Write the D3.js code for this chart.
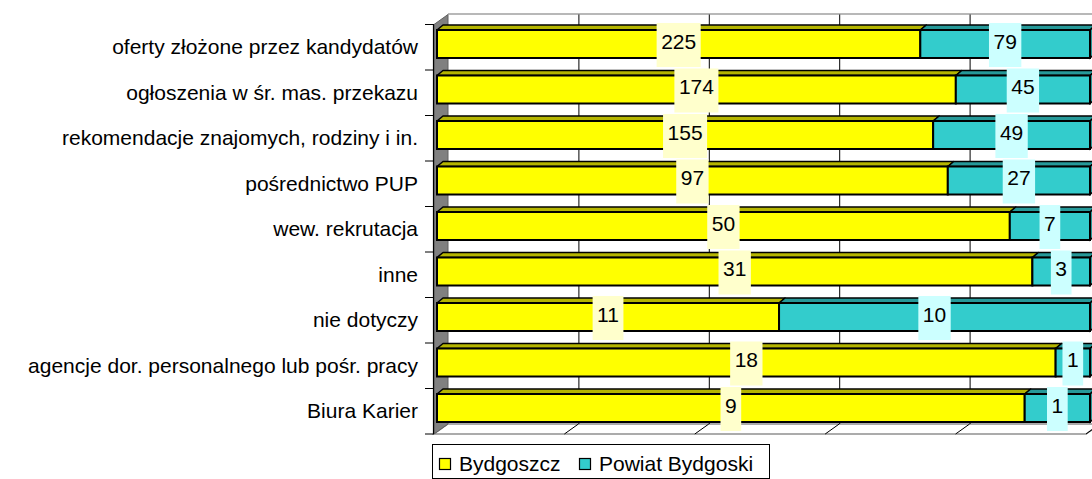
<!DOCTYPE html>
<html>
<head>
<meta charset="utf-8">
<script src="https://cdn.jsdelivr.net/npm/d3@7"></script>
<style>
html,body{margin:0;padding:0;background:#fff;}
svg{display:block;}
text{font-family:"Liberation Sans",Arial,sans-serif;}
</style>
</head>
<body>
<script>
// ---- data ----
const categories = [
  "oferty złożone przez kandydatów",
  "ogłoszenia w śr. mas. przekazu",
  "rekomendacje znajomych, rodziny i in.",
  "pośrednictwo PUP",
  "wew. rekrutacja",
  "inne",
  "nie dotyczy",
  "agencje dor. personalnego lub pośr. pracy",
  "Biura Karier"
];
const bydgoszcz = [225, 174, 155, 97, 50, 31, 11, 18, 9];
const powiat = [79, 45, 49, 27, 7, 3, 10, 1, 1];
const seriesNames = ["Bydgoszcz", "Powiat Bydgoski"];
const xTicks = [0, 0.2, 0.4, 0.6, 0.8, 1];

// ---- styles ----
const W = 1092, H = 479;
const FONT = 21;
const fills = ["#ffff00", "#33cccc"];
const topFills = ["#b5b500", "#269999"];
const labelFills = ["#ffffcc", "#ccffff"];

const svg = d3.select("body").append("svg").attr("width", W).attr("height", H);

const y = d3.scaleBand().domain(categories).range([24.5, 434]);
const xPlane = d3.scaleLinear().domain([0, 1]).range([434, 1086]);
const xBar = d3.scaleLinear().domain([0, 1]).range([437, 1090]);
const DX = 14, DY = -10;      // wall depth
const BDX = 6, BDY = -5;      // bar depth
const barOff = 5.5, barH = 28;

const yTop = y.range()[0], yBot = y.range()[1];

// back wall
svg.append("rect")
  .attr("x", xPlane(0) + DX).attr("y", yTop + DY)
  .attr("width", xPlane(1) - xPlane(0)).attr("height", yBot - yTop)
  .attr("fill", "#fff");
svg.append("line")
  .attr("x1", xPlane(0) + DX).attr("x2", xPlane(1) + DX)
  .attr("y1", yTop + DY - 0.5).attr("y2", yTop + DY - 0.5)
  .attr("stroke", "#a0a0a0").attr("stroke-width", 1.5);

// floor
svg.append("polygon")
  .attr("points", [
    [xPlane(0), yBot], [xPlane(1), yBot], [xPlane(1) + DX, yBot + DY], [xPlane(0) + DX, yBot + DY]
  ].map(p => p.join(",")).join(" "))
  .attr("fill", "#fff").attr("stroke", "#909090").attr("stroke-width", 1.5);

// gridlines (back wall + floor)
const inner = xTicks.filter(t => t > 0);
svg.selectAll("line.grid").data(inner).join("line").attr("class", "grid")
  .attr("x1", d => xPlane(d) + DX + 0.5).attr("x2", d => xPlane(d) + DX + 0.5)
  .attr("y1", yTop + DY).attr("y2", yBot + DY)
  .attr("stroke", "#000").attr("stroke-width", 1);
svg.selectAll("line.fgrid").data(inner).join("line").attr("class", "fgrid")
  .attr("x1", d => xPlane(d)).attr("y1", yBot)
  .attr("x2", d => xPlane(d) + DX).attr("y2", yBot + DY)
  .attr("stroke", "#000").attr("stroke-width", 1);

// left wall
svg.append("polygon")
  .attr("points", [
    [xPlane(0), yTop], [xPlane(0) + DX, yTop + DY], [xPlane(0) + DX, yBot + DY], [xPlane(0), yBot]
  ].map(p => p.join(",")).join(" "))
  .attr("fill", "#808080").attr("stroke", "#606060").attr("stroke-width", 1);

// category axis line and ticks
svg.append("line")
  .attr("x1", xPlane(0) - 0.5).attr("x2", xPlane(0) - 0.5)
  .attr("y1", yTop).attr("y2", yBot)
  .attr("stroke", "#000").attr("stroke-width", 1.2);
const tickYs = categories.map(c => y(c)).concat([yBot]);
svg.selectAll("line.tick").data(tickYs).join("line").attr("class", "tick")
  .attr("x1", xPlane(0) - 9).attr("x2", xPlane(0))
  .attr("y1", d => d).attr("y2", d => d)
  .attr("stroke", "#000").attr("stroke-width", 1);

// category labels
svg.selectAll("text.cat").data(categories).join("text").attr("class", "cat")
  .attr("x", 418).attr("y", d => y(d) + y.bandwidth() / 2 + 7)
  .attr("text-anchor", "end").attr("font-size", FONT).attr("fill", "#000")
  .text(d => d);

// stacked data
const rows = categories.map((c, i) => ({ cat: c, [seriesNames[0]]: bydgoszcz[i], [seriesNames[1]]: powiat[i] }));
const stack = d3.stack().keys(seriesNames).offset(d3.stackOffsetExpand);
const layers = stack(rows);
const raw = [bydgoszcz, powiat];

const pts = arr => arr.map(p => p.join(",")).join(" ");
const gBars = svg.append("g");
layers.forEach((layer, si) => {
  layer.forEach(d => {
    const x0 = xBar(d[0]), x1 = xBar(d[1]);
    const yt = y(d.data.cat) + barOff, yb = yt + barH;
    gBars.append("polygon")
      .attr("points", pts([[x0, yt], [x1, yt], [x1 + BDX, yt + BDY], [x0 + BDX, yt + BDY]]))
      .attr("fill", topFills[si]).attr("stroke", "#000").attr("stroke-width", 1.5).attr("stroke-linejoin", "round");
    if (si === layers.length - 1) {
      gBars.append("polygon")
        .attr("points", pts([[x1, yt], [x1 + BDX, yt + BDY], [x1 + BDX, yb + BDY], [x1, yb]]))
        .attr("fill", topFills[si]).attr("stroke", "#000").attr("stroke-width", 1.5);
    }
    gBars.append("rect")
      .attr("x", x0).attr("y", yt).attr("width", x1 - x0).attr("height", barH)
      .attr("fill", fills[si]).attr("stroke", "#000").attr("stroke-width", 2);
  });
});

// data labels
const gLab = svg.append("g");
layers.forEach((layer, si) => {
  layer.forEach((d, i) => {
    const cx = (xBar(d[0]) + xBar(d[1])) / 2;
    const cy = y(d.data.cat) + barOff + barH / 2;
    const g = gLab.append("g");
    const r = g.append("rect").attr("fill", labelFills[si]);
    const t = g.append("text")
      .attr("x", cx).attr("y", cy + 4.5)
      .attr("text-anchor", "middle").attr("font-size", FONT).attr("fill", "#000")
      .text(raw[si][i]);
    const tw = t.node().getComputedTextLength();
    r.attr("x", cx - tw / 2 - 4.5).attr("y", cy - 21).attr("width", tw + 9).attr("height", 44);
  });
});

// legend
const lg = svg.append("g");
lg.append("rect").attr("x", 432.5).attr("y", 444.5).attr("width", 337).attr("height", 34)
  .attr("fill", "#fff").attr("stroke", "#000").attr("stroke-width", 1);
const legX = [439, 579];
seriesNames.forEach((s, i) => {
  lg.append("rect").attr("x", legX[i] + 0.5).attr("y", 458.5).attr("width", 11).attr("height", 11)
    .attr("fill", fills[i]).attr("stroke", "#000").attr("stroke-width", 1.2);
  lg.append("text").attr("x", legX[i] + 20).attr("y", 471)
    .attr("font-size", FONT).attr("fill", "#000").text(s);
});
</script>
</body>
</html>
